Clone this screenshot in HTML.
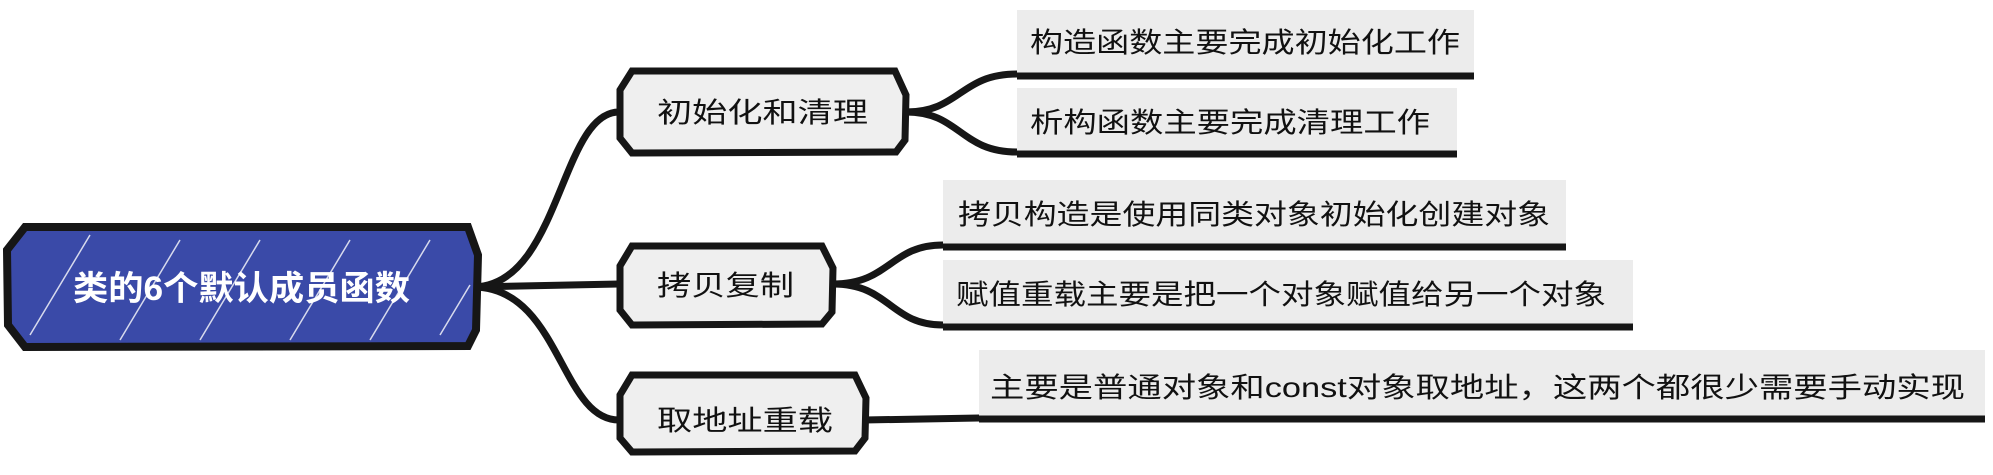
<!DOCTYPE html>
<html><head><meta charset="utf-8"><style>
html,body{margin:0;padding:0;background:#fff;}
svg{display:block}
text{font-family:"Liberation Sans","Noto Sans CJK SC",sans-serif;}
</style></head><body>
<svg width="1993" height="475" viewBox="0 0 1993 475" xmlns="http://www.w3.org/2000/svg">
<g fill="none" stroke="#161616" stroke-width="7" stroke-linecap="round">
<path d="M473 287 C560 287,560 112,619 112"/>
<path d="M473 287 L619 284"/>
<path d="M473 287 C560 287,560 420,619 420"/>
<path d="M906 112 C960 112,960 74,1017 74"/>
<path d="M906 112 C960 112,960 152,1017 152"/>
<path d="M833 284 C890 284,890 245,943 245"/>
<path d="M833 284 C890 284,890 325,943 325"/>
<path d="M864 420 L979 418"/>
</g>
<g fill="#ececec">
<rect x="1017" y="10" width="457" height="64"/>
<rect x="1017" y="88" width="440" height="64"/>
<rect x="943" y="180" width="623" height="65"/>
<rect x="943" y="260" width="690" height="65"/>
<rect x="979" y="350" width="1006" height="66"/>
</g>
<g stroke="#161616" stroke-width="7">
<line x1="1017" y1="76" x2="1474" y2="76"/>
<line x1="1017" y1="154" x2="1457" y2="154"/>
<line x1="943" y1="247" x2="1566" y2="247"/>
<line x1="943" y1="327" x2="1633" y2="327"/>
<line x1="979" y1="419" x2="1985" y2="419"/>
</g>
<path d="M25 227 L468 227 L478 255 L476 330 L468 346 L25 347 L8 325 L7 250 Z" fill="#3a4aa8" stroke="#161616" stroke-width="8"/>
<g stroke="#fff" stroke-width="1.5" opacity="0.8">
<line x1="30" y1="335" x2="90" y2="235"/><line x1="120" y1="340" x2="180" y2="240"/>
<line x1="200" y1="340" x2="260" y2="240"/><line x1="290" y1="340" x2="350" y2="240"/>
<line x1="370" y1="340" x2="430" y2="240"/><line x1="440" y1="335" x2="470" y2="285"/>
</g>
<g fill="#efefef" stroke="#161616" stroke-width="7">
<path d="M632 71 L895 71 L906 95 L905 140 L896 152 L632 153 L620 138 L620 90 Z"/>
<path d="M632 246 L822 246 L833 268 L832 312 L822 324 L632 325 L620 310 L620 266 Z"/>
<path d="M632 375 L855 375 L866 398 L865 438 L855 451 L632 452 L620 438 L620 395 Z"/>
</g>
<text x="73" y="300" font-size="34" font-weight="bold" fill="#fff" textLength="337" lengthAdjust="spacingAndGlyphs">类的6个默认成员函数</text>
<g font-size="28" fill="#111">
<text x="657" y="122" textLength="211" lengthAdjust="spacingAndGlyphs">初始化和清理</text>
<text x="657" y="295" textLength="137" lengthAdjust="spacingAndGlyphs">拷贝复制</text>
<text x="657" y="430" textLength="176" lengthAdjust="spacingAndGlyphs">取地址重载</text>
<text x="1030" y="52" textLength="430" lengthAdjust="spacingAndGlyphs">构造函数主要完成初始化工作</text>
<text x="1030" y="132" textLength="400" lengthAdjust="spacingAndGlyphs">析构函数主要完成清理工作</text>
<text x="958" y="224" textLength="592" lengthAdjust="spacingAndGlyphs">拷贝构造是使用同类对象初始化创建对象</text>
<text x="956" y="304" textLength="650" lengthAdjust="spacingAndGlyphs">赋值重载主要是把一个对象赋值给另一个对象</text>
<text x="990" y="397" textLength="975" lengthAdjust="spacingAndGlyphs">主要是普通对象和const对象取地址，这两个都很少需要手动实现</text>
</g>
</svg>
</body></html>
